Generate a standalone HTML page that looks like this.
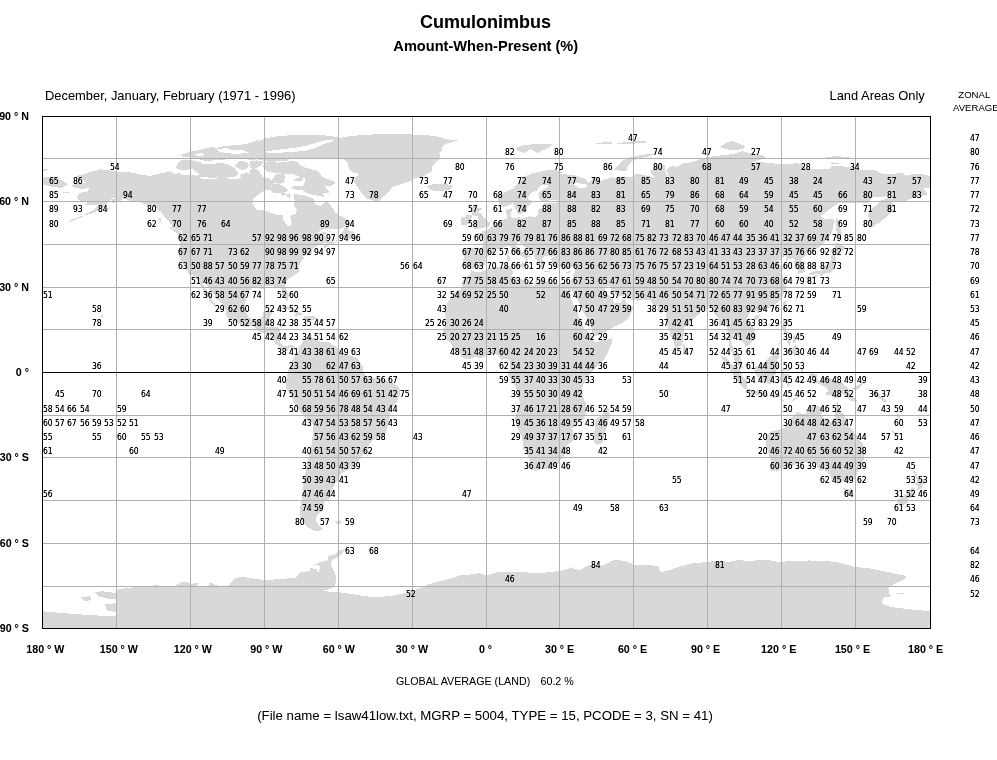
<!DOCTYPE html>
<html><head><meta charset="utf-8"><title>Cumulonimbus Amount-When-Present</title>
<style>
html,body{margin:0;padding:0;background:#fff}
body{width:997px;height:760px;overflow:hidden;position:relative;font-family:"Liberation Sans",sans-serif;color:#000}
svg{position:absolute;left:0;top:0}
text{font-family:"Liberation Sans",sans-serif;fill:#000}
.n text{font-size:8.5px;font-family:"DejaVu Sans Condensed","DejaVu Sans","Liberation Sans",sans-serif;font-stretch:condensed}
.ax text{font-size:10.7px;font-weight:bold}
</style></head><body>
<svg width="997" height="760" viewBox="0 0 997 760">
<rect width="997" height="760" fill="#fff"/>
<defs><filter id="th" x="0" y="0" width="100%" height="100%" filterUnits="userSpaceOnUse" color-interpolation-filters="sRGB"><feComponentTransfer><feFuncA type="linear" slope="1.3" intercept="0"/></feComponentTransfer></filter><filter id="tg" x="0" y="0" width="100%" height="100%" filterUnits="userSpaceOnUse" color-interpolation-filters="sRGB"><feComponentTransfer><feFuncA type="linear" slope="1.05" intercept="0"/></feComponentTransfer></filter></defs>
<g fill="#d8d8d8" stroke="none" shape-rendering="crispEdges"><polygon points="42.0,178.0 48.5,176.5 57.6,178.0 68.1,184.2 61.6,187.8 53.7,187.2 47.2,185.5 42.0,184.2"/><polygon points="42.7,168.9 47.9,168.6 48.5,170.2 43.3,170.9"/><polygon points="62.2,191.5 69.4,191.7 69.6,192.8 62.9,192.5"/><polygon points="298.3,351.2 299.5,346.0 303.1,341.6 309.2,336.8 314.4,338.0 320.8,342.0 327.2,341.6 335.6,346.4 342.9,352.6 350.3,355.6 357.1,357.9 362.7,366.3 363.3,372.1 366.3,376.1 376.8,379.1 384.4,380.1 391.0,382.5 396.4,385.1 399.6,388.7 399.6,395.0 396.4,402.2 391.0,409.0 389.8,416.2 388.4,424.3 386.4,431.3 382.4,437.3 372.6,440.3 369.3,444.3 367.3,449.3 360.3,458.0 355.3,465.4 349.3,469.4 344.8,471.8 341.5,472.9 338.1,480.7 334.7,484.1 333.1,488.6 331.4,491.9 330.3,495.3 328.6,499.7 323.6,502.0 323.6,507.6 321.9,510.9 316.8,515.4 315.7,519.9 318.0,524.4 322.4,528.8 319.1,531.5 314.6,531.0 307.9,527.7 302.3,522.1 299.5,515.4 300.1,507.6 301.7,499.7 302.9,488.6 304.5,477.4 306.8,466.2 309.0,455.0 311.8,444.3 312.8,434.3 313.4,424.7 309.2,421.2 303.1,415.2 296.1,406.2 292.1,398.2 288.1,391.2 285.5,385.3 287.1,376.1 288.1,370.1 291.1,363.1 294.1,357.1"/><polygon points="335.0,521.0 340.0,520.0 342.0,523.0 337.0,524.0"/><polygon points="339.3,143.1 342.3,137.1 360.4,135.1 380.5,134.1 400.5,134.5 420.1,134.5 436.1,136.1 446.1,139.1 457.2,140.5 448.1,143.1 441.1,146.1 442.5,149.7 438.5,153.7 440.1,158.5 434.5,164.1 430.1,169.4 425.6,171.2 418.6,176.2 410.5,181.2 400.5,184.2 392.5,187.2 388.5,192.2 382.5,197.2 378.0,203.0 376.9,201.9 370.4,199.8 366.0,197.2 362.2,193.0 358.7,187.1 356.0,182.0 355.1,177.4 359.3,176.0 358.0,173.5 352.1,172.2 349.1,168.5 347.8,163.0 345.0,158.7 339.0,158.0"/><polygon points="427.1,186.2 434.1,183.8 446.1,183.8 453.2,186.2 450.2,189.8 440.1,191.2 430.1,190.2"/><polygon points="515.3,148.1 524.4,145.1 540.4,143.7 552.5,144.1 548.4,148.1 540.4,151.1 538.4,153.1 530.4,149.1 524.4,153.1 518.4,151.1"/><polygon points="472.7,269.3 470.5,268.2 467.7,266.2 464.0,266.8 462.6,261.9 464.0,257.7 464.5,254.0 463.1,249.7 466.3,247.7 471.7,248.0 476.6,248.3 481.6,248.6 482.8,245.1 483.0,240.6 480.6,237.7 474.9,235.8 474.4,234.0 478.6,233.2 482.1,233.5 481.6,230.6 483.0,231.5 486.5,230.6 489.9,228.4 490.4,226.9 493.9,225.8 495.9,224.1 497.8,221.2 500.8,219.8 503.8,219.5 507.0,218.7 507.5,215.8 506.0,213.8 506.2,209.9 509.4,209.3 512.1,207.9 511.9,211.3 511.2,213.3 510.2,215.6 510.7,217.0 513.1,218.4 516.3,217.8 519.3,217.0 521.3,218.7 525.5,217.5 530.4,216.1 532.1,217.3 534.8,217.0 537.8,215.0 537.8,211.3 539.0,208.7 541.7,207.9 543.5,209.9 545.7,209.3 546.2,206.2 544.0,205.0 544.0,203.6 546.9,202.8 551.4,202.5 555.1,202.8 560.0,201.6 556.8,199.9 552.6,199.9 547.7,200.8 542.7,201.6 540.3,200.2 538.8,198.5 539.0,195.6 538.3,192.8 541.5,190.5 545.2,188.2 548.4,187.1 548.2,185.4 545.2,184.8 540.8,185.4 538.8,188.2 536.6,190.5 532.4,192.5 529.7,194.8 528.4,197.6 528.4,199.3 531.6,200.8 532.4,202.8 529.9,204.7 526.9,207.0 526.7,210.4 525.0,212.4 521.8,212.7 521.0,214.4 518.1,214.4 517.3,212.1 515.6,208.7 513.9,205.6 512.6,203.3 511.4,204.2 508.2,205.6 503.3,207.0 499.8,205.0 498.3,201.3 498.3,197.1 499.6,194.5 504.5,192.2 510.7,190.0 514.4,187.1 518.1,183.4 521.8,180.0 523.0,177.4 527.9,175.2 534.1,172.9 541.5,171.5 549.6,169.8 556.3,170.3 562.5,172.0 560.0,173.7 567.4,174.6 574.8,175.4 585.9,179.1 587.9,182.6 590.8,180.9 593.1,176.9 599.5,177.7 600.7,181.4 604.4,179.4 611.8,177.4 619.2,178.0 621.7,176.9 627.8,176.6 632.8,177.2 636.5,173.5 645.1,175.2 651.3,176.9 655.0,177.7 651.3,173.7 650.8,170.0 655.0,167.2 658.7,164.4 665.6,164.9 664.8,170.0 667.3,175.7 663.6,182.6 669.8,180.0 668.5,175.7 666.1,170.0 671.0,166.3 677.2,166.6 684.6,162.9 693.2,162.1 699.4,159.2 708.0,157.0 720.3,155.5 732.7,154.1 743.0,151.0 749.9,153.5 762.3,155.0 766.0,157.8 757.3,160.7 749.9,163.2 757.3,162.1 766.0,162.6 777.1,163.8 789.4,164.1 798.0,162.9 804.2,165.5 803.0,168.1 811.6,169.2 821.5,168.6 830.1,168.6 831.3,165.8 841.2,166.3 853.5,167.2 860.9,170.3 874.5,170.0 881.9,173.7 890.5,174.0 901.6,172.9 906.6,175.7 914.0,173.5 922.6,174.0 930.0,176.0 930.0,187.1 926.3,188.5 922.6,187.7 928.0,194.2 920.1,196.2 910.3,199.1 905.3,201.3 895.5,200.5 891.8,201.9 894.2,204.7 891.8,208.2 894.2,211.3 889.3,214.1 885.6,217.8 880.7,221.8 877.0,224.1 872.5,227.5 869.1,222.7 868.3,215.6 869.1,210.4 873.3,207.6 880.7,200.8 889.3,197.1 891.8,194.2 883.1,197.1 873.3,196.8 868.3,202.8 858.5,203.0 846.1,203.3 838.7,203.3 832.6,207.0 826.4,211.9 820.2,216.1 825.2,219.0 831.3,218.4 834.8,220.7 833.8,224.1 832.6,229.8 831.3,234.0 827.6,238.3 822.7,244.0 817.8,248.3 812.8,249.7 808.1,251.4 806.2,255.4 800.7,259.1 803.0,263.1 805.2,268.2 804.7,271.9 800.5,273.3 797.5,273.9 798.0,268.2 796.8,264.8 794.3,262.5 794.8,259.4 792.6,258.2 788.2,259.6 785.2,261.4 786.9,256.8 784.5,255.7 779.5,260.5 776.6,262.2 779.0,265.0 780.8,266.2 784.5,264.8 788.2,266.2 784.0,269.0 780.3,272.4 782.7,275.9 784.5,280.1 786.7,283.8 784.5,285.2 786.9,287.0 785.9,290.9 783.2,294.6 781.3,299.5 777.8,302.3 774.1,305.7 768.4,308.0 763.5,310.0 758.8,311.4 758.3,314.3 756.8,311.1 753.1,310.6 749.4,312.8 747.0,318.0 748.7,322.2 751.9,325.6 754.6,329.3 755.6,335.0 755.4,338.7 751.2,342.1 749.2,345.0 745.5,347.3 744.8,343.8 741.8,341.8 739.3,338.4 735.1,335.9 734.9,333.6 732.7,333.9 732.7,337.9 730.9,341.6 732.4,345.5 733.9,351.2 737.1,352.9 739.1,354.9 741.1,358.9 741.3,364.0 743.0,368.0 741.1,367.7 736.1,364.0 733.7,357.8 733.2,353.5 730.2,350.1 728.5,348.7 729.5,343.0 729.0,337.9 727.7,332.2 726.7,325.6 724.8,323.6 722.8,325.4 718.9,326.5 719.1,321.4 717.1,316.5 713.7,312.6 712.4,308.3 709.2,308.0 706.0,310.0 700.6,310.8 700.1,314.0 696.2,316.0 692.0,320.8 689.0,324.2 684.1,327.6 683.8,334.2 683.1,339.3 682.8,342.7 681.4,345.5 678.9,346.7 677.2,349.0 674.9,346.4 673.5,341.3 670.8,335.9 669.3,330.8 667.3,325.9 666.1,321.4 665.6,317.4 665.6,312.8 665.1,310.0 663.6,311.7 660.6,313.1 656.2,308.9 658.7,306.9 655.7,305.7 652.5,304.3 651.3,301.5 650.0,299.8 643.9,300.0 637.7,300.6 631.0,299.5 627.3,298.6 625.6,295.2 620.9,296.3 616.7,295.2 613.0,292.6 611.1,288.9 609.3,286.1 606.4,285.8 604.4,287.8 605.6,291.2 608.1,294.6 609.8,296.9 611.3,299.5 612.3,297.8 613.3,299.5 613.0,302.0 616.7,303.4 620.4,302.9 624.1,298.3 625.1,297.2 625.4,300.9 626.6,303.7 630.5,304.9 633.5,308.0 630.8,313.4 628.6,318.0 625.4,320.8 621.7,323.6 615.5,325.9 609.3,329.3 604.4,332.2 597.0,335.6 593.3,335.9 591.8,329.9 591.1,325.1 587.1,318.5 584.7,314.3 582.4,310.8 580.2,304.3 577.8,300.9 576.0,297.2 572.3,292.1 572.1,288.1 570.9,292.4 569.1,292.4 566.4,287.0 565.7,283.0 570.6,282.7 572.3,278.1 574.6,272.4 574.8,269.6 575.3,267.6 571.8,267.3 568.6,269.0 565.7,269.0 561.7,267.3 558.0,268.2 553.8,266.8 551.4,263.1 552.1,260.2 550.6,258.5 553.8,257.1 557.5,255.4 553.8,255.7 550.9,256.8 547.7,255.7 544.7,256.2 542.7,257.1 542.0,258.8 543.2,260.8 545.2,263.9 543.2,265.3 543.0,268.2 541.0,268.2 539.5,267.0 538.3,264.5 539.0,263.1 536.1,259.9 534.1,256.8 534.1,253.1 531.6,251.1 526.7,248.3 523.5,246.0 521.8,243.1 519.8,244.3 519.8,242.0 516.6,242.9 516.3,246.0 519.5,248.0 521.0,251.4 525.5,252.8 526.7,254.5 530.4,256.5 531.6,257.9 527.9,256.8 526.9,258.8 528.2,261.1 526.7,262.8 524.7,264.2 525.5,261.1 524.5,257.9 521.5,256.2 517.3,254.2 513.6,251.4 511.4,248.3 509.4,246.3 506.5,246.3 504.5,247.4 500.8,249.4 497.1,248.6 493.9,249.4 493.9,251.7 491.4,254.2 488.0,255.9 485.3,259.6 486.5,261.6 484.3,265.0 481.1,267.3 475.1,267.6"/><polygon points="471.4,270.2 474.9,271.9 481.1,272.2 483.5,270.5 486.0,269.9 489.7,268.2 493.4,267.3 498.3,267.3 503.3,267.0 510.2,265.9 513.1,266.8 512.1,270.2 513.4,273.0 510.9,275.6 513.6,277.6 518.6,278.4 523.7,280.1 525.0,283.0 529.2,284.4 533.4,285.8 535.3,283.8 535.6,280.4 539.5,278.4 543.2,279.3 547.7,282.1 553.3,283.0 557.5,284.1 560.0,283.0 562.5,282.4 565.7,283.0 566.4,287.0 567.4,290.6 569.4,293.8 570.6,297.5 573.1,303.2 574.1,306.6 577.0,309.4 577.8,312.3 578.0,316.2 581.0,320.8 582.7,325.9 584.2,328.5 587.1,330.8 590.8,335.3 592.8,337.0 592.6,339.3 594.5,342.1 597.0,342.4 601.9,340.1 606.9,339.9 612.3,338.2 612.0,342.4 610.3,346.4 608.1,352.1 605.1,357.8 601.9,362.0 598.2,365.7 594.0,369.7 590.8,373.4 587.9,377.4 585.2,380.0 583.7,383.9 582.0,388.5 583.2,391.6 583.2,396.2 584.2,400.4 585.9,402.2 586.1,408.4 586.4,413.5 584.7,418.1 579.7,421.5 576.8,423.2 572.3,428.3 573.1,433.2 573.6,439.7 569.9,443.1 566.7,445.7 567.2,450.2 565.4,453.9 562.5,457.0 560.0,461.0 556.3,465.0 552.6,467.6 549.4,468.7 544.0,469.0 540.3,469.3 535.3,471.0 531.9,469.3 530.9,465.3 530.9,461.6 528.4,457.3 526.7,453.4 523.5,448.8 522.8,443.1 521.8,437.1 519.1,431.7 516.6,425.2 515.1,420.9 515.1,417.5 516.3,414.1 517.1,409.8 519.3,407.3 520.0,403.3 518.6,397.0 516.6,389.4 515.6,386.2 513.4,383.1 509.9,378.5 507.7,374.3 509.4,370.9 509.9,366.3 510.2,362.6 509.2,360.6 507.0,358.9 503.3,359.5 500.8,359.8 498.6,355.8 496.6,354.1 493.4,353.8 489.0,354.6 485.5,356.1 481.1,358.3 478.1,357.5 474.9,357.2 471.2,358.3 467.5,359.5 463.8,357.8 459.4,354.1 457.1,352.1 453.4,347.8 452.2,345.0 449.0,341.3 444.8,337.0 444.6,333.9 442.8,330.2 445.3,326.5 446.5,320.8 445.8,316.5 444.1,312.3 446.5,304.6 450.2,297.8 453.4,293.2 457.6,290.9 461.3,288.4 462.1,285.5 461.8,282.4 465.0,277.6 467.3,276.4 469.2,275.3 471.2,271.9"/><polygon points="837.5,402.4 840.0,411.8 844.4,414.7 846.1,420.4 846.9,425.5 849.8,427.5 853.0,430.0 854.3,432.6 858.0,436.9 858.5,439.7 862.9,443.1 863.9,447.4 864.1,451.1 864.9,453.9 863.4,460.2 862.2,463.6 859.2,468.4 856.7,473.8 856.0,478.4 851.1,479.8 847.1,483.2 843.7,481.2 840.0,482.4 835.0,480.9 831.3,478.7 830.1,474.4 827.6,473.0 827.6,470.7 825.9,472.1 825.2,469.3 826.2,465.6 823.9,467.9 821.5,471.0 819.5,470.1 817.0,465.9 815.3,463.3 809.6,461.6 804.2,462.2 796.8,463.9 791.9,465.9 790.6,468.4 782.0,468.4 777.1,471.6 772.1,471.3 769.9,469.8 769.7,467.3 771.4,463.0 770.2,458.8 768.7,453.9 767.4,450.2 765.7,446.0 765.7,441.1 766.7,436.0 767.7,434.0 770.9,431.7 774.1,430.6 778.5,429.7 784.5,427.8 787.4,423.2 788.2,420.4 790.9,421.2 790.9,418.4 794.3,415.5 798.0,411.8 801.7,414.1 805.7,414.4 806.2,410.7 808.6,407.3 811.6,406.7 813.1,404.7 815.3,405.6 819.5,406.7 823.4,406.7 822.7,410.4 821.2,414.7 823.4,417.2 826.4,419.8 830.1,421.8 833.3,421.8 835.0,416.1 835.5,409.0 836.3,403.3"/><polygon points="607.6,406.1 610.3,416.1 608.3,420.4 607.9,423.8 605.6,430.3 603.7,437.4 602.2,442.8 597.5,444.8 594.5,442.5 593.1,436.0 595.3,428.9 594.5,421.8 597.0,417.8 600.2,416.7 603.4,413.5 605.9,410.1"/><polygon points="842.9,487.8 847.4,488.9 851.8,488.3 851.8,491.5 850.8,494.9 848.1,496.0 844.9,493.7 844.2,490.9"/><polygon points="912.0,469.8 915.9,472.4 917.2,476.7 919.9,479.0 926.3,479.2 924.8,483.2 922.6,484.1 922.4,487.2 918.4,490.3 917.2,489.5 917.9,485.8 914.7,483.8 916.7,481.5 916.9,478.7 915.7,475.8 912.7,472.1"/><polygon points="912.0,487.2 915.0,488.3 915.9,490.6 914.5,492.6 913.0,496.6 908.5,498.3 907.1,502.6 904.1,504.6 901.1,504.6 896.7,502.8 897.9,500.0 901.1,497.2 905.3,494.3 908.3,492.6 909.8,490.3"/><polygon points="471.9,229.5 477.4,228.9 482.8,227.8 489.2,226.6 490.2,222.1 486.7,221.2 485.8,219.3 482.3,215.6 481.1,213.0 478.1,212.7 481.6,208.4 477.4,207.9 476.1,208.2 478.4,205.3 473.7,205.3 471.7,208.4 472.2,211.3 472.2,214.4 474.2,215.6 473.7,216.4 477.4,215.8 478.4,218.4 478.6,220.1 474.9,220.4 475.6,221.8 474.4,224.1 473.2,224.7 478.6,225.8 475.6,226.4 473.7,228.6"/><polygon points="470.7,220.4 470.5,223.5 465.0,225.2 460.8,224.7 461.3,220.1 461.6,217.5 465.5,217.0 465.5,215.0 468.0,214.7 471.2,215.0 472.4,216.7 471.0,218.4"/><polygon points="613.0,170.0 618.0,165.8 621.7,161.5 629.1,157.2 641.4,155.0 655.0,153.3 648.8,156.4 634.0,160.1 627.8,165.8 626.6,170.9 619.2,170.6 614.3,169.2"/><polygon points="720.3,147.3 725.3,143.0 732.7,141.0 745.0,145.9 742.5,149.3 730.2,150.1"/><polygon points="823.9,157.8 836.3,155.8 846.1,157.2 856.0,158.1 851.1,159.2 838.7,159.0 826.4,159.5"/><polygon points="831.3,162.4 840.0,162.9 838.7,163.8 832.1,163.5"/><polygon points="836.3,217.5 839.2,221.2 839.5,226.9 841.9,232.6 838.7,238.3 840.0,240.6 836.8,241.2 836.3,236.9 836.8,232.6 835.8,226.9 835.8,219.8"/><polygon points="836.0,242.6 844.4,246.3 845.4,248.8 839.5,252.5 833.8,251.1 831.8,254.0 831.3,250.5 835.0,248.8 835.5,244.0"/><polygon points="834.5,254.5 836.3,259.6 833.8,263.9 833.8,267.3 833.3,270.5 830.8,272.4 827.6,273.3 823.9,273.6 823.4,274.4 821.0,276.7 819.0,274.4 816.5,273.9 812.8,274.7 809.1,275.3 809.1,273.6 813.1,271.3 817.8,270.7 821.5,270.5 823.2,267.3 824.7,265.3 827.6,265.6 830.1,262.5 831.3,258.8 831.3,255.9"/><polygon points="808.9,275.6 811.1,277.3 810.4,281.0 809.1,283.0 807.2,283.3 807.2,279.6 805.9,277.6"/><polygon points="812.8,275.9 817.8,274.7 817.3,276.7 814.1,278.7 812.3,277.6"/><polygon points="785.7,300.3 786.4,302.3 785.2,306.6 784.0,309.4 782.5,306.6 783.2,302.3 784.5,300.9"/><polygon points="754.1,317.4 756.1,315.1 759.8,315.1 758.6,318.5 756.1,320.2 754.1,319.1"/><polygon points="683.3,344.1 686.3,347.5 687.8,351.2 686.5,354.1 684.1,354.9 682.8,352.1 682.8,347.8"/><polygon points="783.5,319.4 787.4,319.7 787.7,323.6 785.9,327.1 786.2,330.8 789.4,332.2 791.9,335.0 790.6,335.9 788.2,333.0 784.5,333.0 783.5,330.8 782.0,327.9 782.7,325.1"/><polygon points="795.6,344.1 797.8,347.8 797.5,353.5 795.6,354.9 794.8,356.1 791.9,353.5 790.6,350.7 786.9,352.1 787.2,349.8 789.4,347.8 793.1,347.5"/><polygon points="792.6,336.4 795.1,336.4 796.1,340.7 794.8,343.0 793.6,343.0 792.9,339.9"/><polygon points="786.9,338.4 789.9,339.3 790.6,342.1 790.1,345.8 788.2,345.0 786.9,342.1"/><polygon points="775.1,348.1 777.8,345.5 780.8,339.9 780.0,343.0 777.1,346.7"/><polygon points="754.9,367.7 756.3,366.3 759.8,367.7 761.0,364.3 764.7,362.9 767.2,358.9 770.9,356.4 774.1,352.1 776.3,354.1 780.0,356.9 777.1,359.8 776.6,363.5 779.3,369.2 776.6,369.7 775.8,374.3 773.4,376.3 773.4,380.5 772.1,383.4 768.4,383.7 766.0,381.4 762.3,381.7 759.8,380.5 757.8,379.1 757.3,375.7 755.4,373.4 754.9,370.6"/><polygon points="721.1,356.1 726.5,357.2 729.5,361.5 732.7,364.9 735.1,365.7 738.8,369.2 742.0,372.0 741.3,374.8 743.8,377.1 747.5,380.5 747.2,388.5 744.0,388.5 740.1,384.8 736.4,380.0 733.4,374.8 730.2,370.6 729.0,366.9 725.3,362.9 721.6,358.6"/><polygon points="745.5,391.3 747.7,389.1 749.9,389.1 753.6,391.1 758.6,391.6 759.8,390.2 763.7,391.6 768.4,393.9 768.2,396.7 762.3,395.9 757.3,394.8 752.4,394.2 748.7,393.0"/><polygon points="769.7,395.0 773.9,395.6 779.5,395.3 779.5,397.0 774.1,397.6 769.9,397.0"/><polygon points="781.5,395.9 789.4,395.3 788.9,397.0 782.0,397.3"/><polygon points="779.5,398.7 784.0,400.2 782.5,401.3 779.5,399.9"/><polygon points="790.6,401.3 794.3,398.2 799.8,395.9 798.0,397.9 793.1,401.0"/><polygon points="780.8,387.6 783.0,387.9 783.0,380.5 784.5,379.7 786.4,383.4 788.2,387.1 789.9,384.8 787.7,381.4 785.9,377.4 790.1,374.8 790.1,373.7 785.7,374.6 782.5,372.0 783.7,370.6 789.4,370.6 794.3,367.4 793.1,369.2 789.4,369.4 784.5,368.3 782.0,369.7 781.5,372.0 780.8,374.8 779.0,380.0 780.8,382.0"/><polygon points="800.5,366.3 801.7,366.9 803.5,369.2 802.5,374.3 801.2,372.9 800.5,369.2"/><polygon points="801.7,380.5 808.6,380.5 808.1,382.2 802.2,382.0"/><polygon points="796.8,380.8 799.8,381.1 799.3,382.8 797.0,382.2"/><polygon points="808.9,374.3 812.8,373.1 816.5,374.3 817.0,379.1 819.0,381.4 822.7,378.3 826.4,376.6 833.8,379.4 838.7,381.7 842.4,382.8 845.6,386.2 848.6,389.1 850.6,391.1 848.4,391.9 851.6,396.2 854.3,397.6 857.2,401.0 854.8,401.6 849.8,400.4 847.4,397.6 843.7,394.2 841.2,393.9 840.0,396.2 838.7,398.2 833.8,397.9 830.1,395.0 826.9,395.9 825.9,392.5 828.4,391.9 826.4,387.6 821.5,385.1 816.5,383.1 814.1,383.7 813.6,381.4 811.6,380.0 815.8,378.5 812.8,377.7 809.1,376.0"/><polygon points="851.8,387.9 856.0,386.2 859.7,383.9 861.7,384.2 860.9,387.1 857.2,389.6 853.5,389.6"/><polygon points="858.0,379.4 860.9,381.1 863.4,384.8 862.7,385.4 859.7,381.7"/><polygon points="867.3,387.4 870.6,390.5 869.8,391.6 867.6,389.1"/><polygon points="890.5,429.2 895.5,432.6 897.9,435.4 896.7,435.4 891.8,431.7 890.3,429.7"/><polygon points="923.3,421.8 926.5,422.1 926.3,423.8 923.6,423.5"/><polygon points="101.2,314.5 103.7,316.2 102.2,318.0 101.2,316.5"/><polygon points="516.6,263.9 524.5,263.3 523.2,267.6 516.8,265.0"/><polygon points="506.2,255.7 508.7,254.8 510.2,256.8 509.7,260.8 506.7,261.1 506.7,256.8"/><polygon points="509.2,249.7 509.4,252.5 508.7,254.2 507.2,252.5 507.5,250.8"/><polygon points="544.0,270.7 550.9,271.6 550.6,272.4 544.2,271.9"/><polygon points="565.7,272.4 571.3,270.5 569.9,272.4 567.4,273.6"/><polygon points="42.0,611.2 72.1,613.9 104.2,615.9 116.6,615.9 116.6,612.2 106.2,610.2 105.2,604.2 116.6,603.2 116.6,599.2 110.2,599.2 98.2,596.2 95.2,592.2 102.2,591.2 116.6,593.2 116.6,589.8 122.2,588.6 134.3,587.2 150.3,585.8 158.3,585.2 162.4,586.6 174.4,586.2 180.4,582.6 186.4,581.8 190.4,583.8 200.5,582.6 196.5,585.8 208.5,586.2 208.5,582.6 212.5,582.6 214.5,585.2 226.6,586.2 230.6,584.2 238.6,583.8 234.6,579.1 242.0,576.5 242.0,628.3 42.0,628.3"/><polygon points="81.1,597.2 90.1,596.2 91.7,600.2 84.1,601.2"/><polygon points="230.0,583.8 234.0,579.1 240.0,576.5 250.1,578.1 264.1,580.2 280.2,579.1 296.2,577.7 300.2,572.1 310.2,571.1 310.2,568.1 316.3,569.1 318.3,573.1 320.3,566.1 314.3,564.5 320.3,562.1 328.3,560.1 328.3,556.1 336.3,553.7 339.3,550.1 345.3,549.1 342.3,553.1 337.3,557.1 332.3,560.1 330.3,564.1 332.3,568.1 335.3,573.1 336.3,580.2 334.3,586.2 330.3,589.2 324.3,590.2 323.3,591.2 338.3,592.2 350.4,593.8 362.4,595.8 374.4,597.2 390.5,596.2 402.5,593.8 414.6,590.2 422.6,587.2 430.0,584.2 430.0,628.3 230.0,628.3"/><polygon points="420.0,588.2 428.0,584.6 440.1,581.2 456.1,577.1 460.1,574.5 470.2,574.5 480.2,573.1 486.2,575.7 496.2,572.5 520.3,572.1 540.4,573.1 558.4,571.1 568.4,569.1 570.5,567.1 574.5,569.1 580.5,570.1 586.5,566.1 590.5,564.5 600.5,566.1 608.6,563.1 612.6,560.5 620.0,559.7 620.0,628.3 420.0,628.3"/><polygon points="610.0,561.1 618.0,560.1 626.0,561.1 634.1,564.5 650.1,565.1 658.1,566.1 660.2,572.5 670.2,570.1 678.2,567.1 690.2,563.7 706.3,562.1 714.3,561.1 730.4,561.7 738.4,560.1 750.4,561.1 758.4,560.1 766.5,559.7 778.5,562.1 790.5,561.1 802.6,561.7 810.0,560.1 810.0,628.3 610.0,628.3"/><polygon points="780.0,562.1 792.0,561.7 806.1,560.5 820.1,560.5 836.2,562.1 848.2,565.1 855.6,567.1 868.3,568.1 880.3,570.5 892.3,573.1 906.4,576.1 904.4,579.7 898.4,581.8 892.3,585.2 888.3,588.2 889.3,594.2 892.3,596.2 884.3,597.2 881.3,601.2 884.3,604.6 892.3,607.2 908.4,609.2 930.5,611.2 930.5,628.3 780.0,628.3"/><polygon points="896.3,592.6 904.4,592.6 904.4,594.2 897.4,594.2"/><polygon points="594.5,143.0 611.8,141.9 611.8,143.6 597.0,144.2"/><polygon points="616.7,143.3 629.1,141.6 646.3,141.0 646.3,142.7 629.1,143.9 619.2,144.4"/><polygon points="71.6,185.4 75.3,183.7 81.5,182.6 87.6,183.4 83.9,181.4 81.5,179.4 75.3,177.7 76.0,176.0 83.9,174.3 88.9,172.0 96.3,170.6 100.0,169.2 108.6,170.3 116.0,171.5 125.9,172.3 133.3,172.6 138.2,174.0 144.4,175.2 150.5,176.0 155.5,174.3 162.9,172.9 170.3,171.2 175.2,174.3 178.9,172.9 182.6,174.6 190.0,174.6 197.4,176.0 202.3,178.6 204.8,179.1 214.7,178.9 219.6,176.9 224.5,176.3 229.5,178.6 235.6,179.1 243.0,177.7 244.3,174.3 249.2,177.7 250.4,174.9 249.2,171.5 252.9,167.2 259.1,170.6 260.3,174.0 262.8,176.9 268.9,178.6 271.4,180.6 275.1,175.7 276.3,173.5 283.7,173.7 285.5,177.2 283.7,180.0 285.5,182.0 280.0,183.7 273.1,182.8 276.3,184.8 271.4,186.3 271.4,189.4 264.0,190.5 260.3,193.4 256.6,196.2 252.9,199.9 252.9,204.7 257.3,209.9 264.0,209.9 270.2,212.7 276.3,214.7 282.5,215.0 283.2,219.8 286.2,223.5 287.4,226.1 291.1,225.5 291.6,222.7 291.1,218.4 289.9,216.1 296.1,213.6 296.8,209.9 293.6,205.0 294.8,201.3 293.6,197.1 294.3,194.2 301.0,194.8 305.9,195.6 308.4,197.1 313.3,198.5 314.6,202.8 315.8,204.7 320.7,205.9 324.4,202.8 326.9,200.2 329.4,204.2 333.1,208.4 335.5,212.7 339.2,215.6 344.2,217.5 347.9,221.2 348.6,224.1 345.4,225.8 340.5,228.9 335.5,229.2 328.1,228.9 322.0,229.2 318.3,232.1 314.1,235.2 320.7,232.6 325.7,232.1 327.4,233.2 324.4,235.5 326.2,237.7 326.9,240.6 329.4,241.2 333.1,241.7 335.5,242.3 336.8,238.9 338.0,241.2 334.8,243.1 329.4,245.1 324.4,248.3 322.7,246.3 326.9,243.1 323.2,243.4 320.7,244.6 317.0,246.0 313.3,247.7 311.4,250.3 311.9,252.5 313.3,253.1 310.1,254.0 305.9,254.8 303.5,256.5 303.5,259.4 301.0,261.4 299.8,263.9 298.5,266.8 299.0,269.0 299.8,271.6 296.8,273.3 293.6,275.6 290.6,277.6 286.7,280.7 285.2,284.7 285.7,288.1 287.4,291.8 288.7,295.8 288.2,300.0 286.2,300.6 284.2,298.0 282.0,293.5 281.8,289.5 278.8,286.7 275.6,287.5 272.6,285.5 268.9,285.8 265.2,286.1 266.0,289.2 262.8,289.2 259.6,287.8 255.4,287.2 252.2,288.4 249.2,290.6 246.2,293.5 246.0,298.0 245.0,303.7 244.8,308.6 246.2,312.8 248.7,317.1 251.7,319.1 253.6,320.2 257.8,319.1 260.8,318.2 262.8,315.4 263.3,312.3 267.7,310.8 271.4,310.8 271.9,313.7 270.2,316.5 269.7,319.9 268.2,322.2 267.5,326.5 268.9,327.1 273.9,326.8 277.6,327.1 280.5,329.3 280.0,335.0 279.5,339.3 280.0,342.1 282.0,344.4 284.2,346.4 287.4,346.1 289.9,344.7 292.4,345.3 294.8,347.3 295.1,350.7 292.9,349.2 289.9,346.7 288.7,348.4 287.9,351.2 286.2,351.0 284.5,349.2 281.5,348.7 279.5,347.5 277.1,344.7 274.6,343.6 274.4,340.7 271.9,337.0 269.9,335.0 267.0,334.5 264.0,333.0 260.3,331.9 257.8,330.2 254.1,326.2 251.2,326.2 248.0,327.3 243.0,325.6 239.6,324.2 235.1,321.7 230.7,319.7 227.0,316.5 225.5,313.7 226.3,310.8 223.5,306.0 219.6,300.9 216.1,298.9 215.9,296.1 213.4,294.3 212.2,292.4 209.2,289.5 207.3,285.2 206.8,283.3 203.1,281.5 202.8,283.8 204.1,286.7 206.0,289.5 207.8,292.4 209.7,295.2 211.5,298.0 212.9,301.7 214.7,303.2 215.9,306.0 214.7,306.9 213.4,305.2 210.2,302.3 209.0,299.5 208.5,297.2 205.3,295.8 203.3,293.8 202.3,292.9 204.1,290.9 202.3,288.1 199.9,285.2 198.1,281.8 196.9,279.3 193.9,275.9 191.2,274.4 188.5,273.9 187.5,271.0 185.3,267.9 183.8,264.8 180.9,261.1 179.4,257.1 179.6,252.5 178.9,249.7 180.1,245.4 180.1,240.6 178.4,234.3 182.6,234.0 182.1,231.8 178.2,229.8 172.7,226.9 170.8,224.1 169.0,221.2 164.6,217.5 162.9,214.1 160.4,211.3 156.7,208.4 153.0,206.2 149.3,206.2 146.1,204.7 141.2,202.5 137.0,201.3 130.8,201.0 125.9,199.1 123.4,198.5 119.7,201.3 116.7,201.9 112.3,203.3 111.6,199.9 116.0,197.9 112.3,198.5 109.8,201.3 107.4,203.0 105.4,204.7 103.7,207.0 100.0,209.3 95.5,211.9 91.3,213.6 87.6,214.7 83.2,216.1 86.4,213.3 90.6,211.9 94.5,209.3 97.5,206.2 98.2,204.7 95.0,204.7 91.3,205.0 86.2,205.3 86.9,202.8 85.9,201.0 81.5,201.3 78.3,199.6 76.5,196.8 79.5,193.4 82.7,192.2 88.1,191.4 89.4,188.2 85.2,188.5 79.0,188.5 75.3,187.7"/><polygon points="181.9,234.3 176.4,233.2 169.5,227.8 171.5,227.2 177.2,229.8 180.6,232.1"/><polygon points="162.4,224.1 159.7,220.7 157.9,217.8 160.9,218.4 161.1,221.2"/><polygon points="110.6,207.3 109.6,209.0 104.9,210.2 105.4,207.9"/><polygon points="349.1,225.2 348.4,228.4 347.9,230.3 352.8,231.2 354.8,234.0 356.0,236.6 354.8,239.2 352.3,238.6 349.1,238.6 347.4,236.6 339.7,236.6 341.7,234.0 342.9,231.2 345.4,226.9"/><polygon points="327.1,230.1 333.8,232.3 331.8,232.3 327.4,230.9"/><polygon points="276.6,309.7 281.3,306.6 286.2,306.3 289.9,307.7 294.8,310.0 299.8,312.3 303.0,314.5 299.8,315.4 294.3,315.7 295.6,313.4 292.4,310.8 287.4,309.4 283.7,308.3 280.5,308.9 278.8,310.0"/><polygon points="302.5,319.7 304.9,315.7 309.1,315.7 313.3,316.0 315.8,317.1 317.3,319.1 314.6,319.7 310.9,320.2 309.1,321.7 305.9,320.2"/><polygon points="292.9,319.7 297.8,320.5 297.8,321.1 292.9,320.5"/><polygon points="320.2,319.4 324.2,319.7 323.9,320.8 320.2,321.1"/><polygon points="407.1,134.2 424.3,135.3 436.7,138.8 457.6,140.5 444.1,144.4 441.6,148.7 439.1,153.0 440.4,157.2 436.7,160.1 431.7,164.4 431.7,168.6 431.7,171.5 428.0,173.7 421.9,176.9 412.0,178.3 404.6,181.4 393.3,185.4 387.3,187.1 384.9,191.4 381.2,195.6 379.9,199.9 377.7,201.9 372.5,199.6 366.4,198.5 362.7,194.2 359.0,189.4 356.5,185.7 354.0,181.4 355.3,177.2 360.2,174.3 351.6,172.0 357.7,170.0 349.1,165.8 346.6,161.5 341.7,157.2 333.1,155.3 320.7,155.8 310.9,152.4 305.9,149.6 318.3,146.7 325.7,145.0 328.1,141.6 338.0,138.8 357.7,137.3 375.0,135.9 392.3,134.5"/><polygon points="255.0,141.5 264.4,139.6 274.6,137.6 287.6,135.6 300.6,135.0 313.7,135.4 328.0,136.3 338.4,137.6 348.9,138.0 359.3,136.9 369.7,135.6 385.0,134.6 385.0,158.1 255.0,158.1"/><polygon points="179.3,155.9 191.1,151.9 204.1,148.9 217.2,147.6 223.7,146.1 238.0,145.0 245.8,144.1 253.7,142.2 264.7,139.6 275.8,136.9 295.0,134.6 295.0,157.5 248.4,157.5 204.1,157.5 184.6,156.9"/><polygon points="82.7,215.6 79.0,216.7 74.1,218.7 69.1,221.0 69.1,222.1 74.1,220.4 79.0,218.1 82.7,217.0"/><polygon points="872.0,390.8 877.0,393.3 882.6,397.0 886.3,401.3 884.4,402.2 879.4,398.5 874.5,394.8 871.5,391.9"/><polygon points="896.7,413.8 898.7,414.7 901.1,418.9 899.4,419.2 897.4,416.4"/><polygon stroke="#d8d8d8" stroke-width="1.6" stroke-linejoin="round" points="176.4,167.5 178.9,162.9 182.6,160.7 190.0,160.4 197.4,162.6 201.6,163.5 194.9,167.2 190.0,168.6 182.6,169.5"/><polygon stroke="#d8d8d8" stroke-width="1.6" stroke-linejoin="round" points="197.4,175.7 201.1,174.6 197.4,171.5 193.7,169.2 196.2,165.8 202.3,164.4 214.7,164.4 222.1,163.8 227.0,164.9 234.4,168.6 236.9,172.9 235.6,175.7 227.0,176.0 219.6,176.6 209.7,176.9 202.3,176.0"/><polygon stroke="#d8d8d8" stroke-width="1.6" stroke-linejoin="round" points="241.8,169.2 235.6,165.8 239.3,162.1 245.5,162.4 248.0,164.9 246.7,168.1"/><polygon stroke="#d8d8d8" stroke-width="1.6" stroke-linejoin="round" points="250.4,167.2 250.4,162.1 256.6,161.2 262.8,162.4 260.3,164.9 255.4,167.2"/><polygon stroke="#d8d8d8" stroke-width="1.6" stroke-linejoin="round" points="240.6,175.7 246.7,173.2 250.4,175.2 248.0,177.2 243.0,176.9"/><polygon stroke="#d8d8d8" stroke-width="1.6" stroke-linejoin="round" points="265.2,162.4 273.9,162.1 277.6,163.5 283.7,162.4 287.4,165.5 293.6,162.6 298.5,164.9 303.5,167.8 310.9,170.0 317.0,171.5 319.5,174.3 322.0,177.7 331.8,181.4 334.3,182.8 330.6,185.7 325.7,184.8 319.5,182.8 325.7,188.5 328.1,191.9 323.2,192.8 317.0,190.8 323.2,195.9 313.3,193.9 308.4,193.1 302.2,188.8 297.3,189.4 292.9,188.0 294.8,186.3 302.2,187.1 304.7,185.1 305.9,181.4 305.9,177.7 301.0,176.6 296.1,174.3 291.1,172.9 287.4,173.5 283.7,172.9 276.3,172.3 268.9,170.9 265.2,169.2 264.0,165.8"/><polygon stroke="#d8d8d8" stroke-width="1.6" stroke-linejoin="round" points="272.6,186.3 277.6,184.3 283.7,187.1 287.4,190.5 281.3,192.2 275.1,192.5 271.4,190.5"/><polygon stroke="#d8d8d8" stroke-width="1.6" stroke-linejoin="round" points="259.1,155.3 251.7,154.1 264.0,153.8 276.3,154.7 286.2,155.8 289.4,157.2 287.4,159.8 276.3,160.1 264.0,159.8 259.1,159.2 257.8,157.2"/><polygon stroke="#d8d8d8" stroke-width="1.6" stroke-linejoin="round" points="288.7,155.3 293.6,154.4 298.5,150.1 301.0,147.3 310.9,145.3 318.3,142.5 328.1,140.2 333.1,137.3 323.2,135.9 312.1,135.6 293.6,135.9 276.3,137.3 264.0,139.3 261.5,141.6 271.4,143.6 273.9,145.9 268.9,148.7 266.5,151.6 270.2,154.4 278.8,154.7"/><polygon stroke="#d8d8d8" stroke-width="1.6" stroke-linejoin="round" points="249.2,144.4 256.6,141.0 264.0,143.0 268.9,145.9 270.2,149.3 261.5,149.3 255.4,147.3"/><polygon stroke="#d8d8d8" stroke-width="1.6" stroke-linejoin="round" points="196.2,156.4 204.8,154.4 217.1,153.5 225.8,156.4 224.5,159.0 214.7,159.5 206.0,160.1 199.9,158.7"/><polygon stroke="#d8d8d8" stroke-width="1.6" stroke-linejoin="round" points="182.6,155.3 190.0,152.4 199.9,151.6 196.2,155.0 188.8,156.1"/><polygon stroke="#d8d8d8" stroke-width="1.6" stroke-linejoin="round" points="229.5,157.2 234.4,154.1 243.0,154.1 245.5,157.2 239.3,158.7"/><polygon stroke="#d8d8d8" stroke-width="1.6" stroke-linejoin="round" points="225.8,149.3 236.9,146.4 241.8,148.7 233.2,150.7"/><polygon stroke="#d8d8d8" stroke-width="1.6" stroke-linejoin="round" points="244.3,148.4 249.2,148.1 250.4,150.4 245.5,150.7"/><polygon stroke="#d8d8d8" stroke-width="1.6" stroke-linejoin="round" points="203.6,152.1 209.7,150.1 214.7,150.4 213.4,152.1 208.5,152.7"/><polygon stroke="#d8d8d8" stroke-width="1.6" stroke-linejoin="round" points="204.8,149.3 212.2,147.9 215.9,149.0 209.7,149.8"/><polygon stroke="#d8d8d8" stroke-width="1.6" stroke-linejoin="round" points="224.5,152.4 228.2,151.0 229.5,152.4 225.8,153.3"/><polygon stroke="#d8d8d8" stroke-width="1.6" stroke-linejoin="round" points="248.0,158.7 251.7,157.0 255.4,158.1 252.9,159.8"/><polygon stroke="#d8d8d8" stroke-width="1.6" stroke-linejoin="round" points="286.2,162.6 293.6,161.8 298.5,163.5 293.6,165.2"/><polygon stroke="#d8d8d8" stroke-width="1.6" stroke-linejoin="round" points="294.8,179.7 299.8,178.0 302.2,179.4 298.5,180.9"/><polygon stroke="#d8d8d8" stroke-width="1.6" stroke-linejoin="round" points="281.3,192.8 283.7,193.1 285.7,194.5 282.0,194.8"/><polygon stroke="#d8d8d8" stroke-width="1.6" stroke-linejoin="round" points="287.9,194.8 290.4,195.4 289.2,196.8 287.4,195.9"/><polygon stroke="#d8d8d8" stroke-width="1.6" stroke-linejoin="round" points="191.2,156.1 194.9,156.1 196.2,157.5 192.5,157.5"/><polygon fill="#fff" points="573.1,183.1 579.7,183.4 586.6,184.6 587.4,186.5 583.4,188.0 578.5,187.7 575.5,185.7"/><polygon fill="#fff" points="266.1,151.3 281.1,149.3 294.1,148.0 304.5,146.1 313.7,143.5 322.8,140.9 333.2,139.3 334.5,140.6 325.4,143.5 316.3,147.4 307.2,150.6 294.1,151.9 281.1,152.6 268.0,153.2"/><polygon fill="#fff" points="217.2,149.3 226.3,148.0 232.8,150.6 243.2,150.0 248.4,152.6 238.0,154.2 227.6,153.2 219.8,151.9"/><polygon fill="#fff" points="195.0,154.2 202.8,152.6 204.1,155.2 197.6,156.5"/></g>
<g stroke="#b0b0b0" stroke-width="1" shape-rendering="crispEdges"><line x1="116.5" y1="116" x2="116.5" y2="628"/><line x1="190.5" y1="116" x2="190.5" y2="628"/><line x1="264.5" y1="116" x2="264.5" y2="628"/><line x1="338.5" y1="116" x2="338.5" y2="628"/><line x1="412.5" y1="116" x2="412.5" y2="628"/><line x1="486.5" y1="116" x2="486.5" y2="628"/><line x1="559.5" y1="116" x2="559.5" y2="628"/><line x1="633.5" y1="116" x2="633.5" y2="628"/><line x1="707.5" y1="116" x2="707.5" y2="628"/><line x1="781.5" y1="116" x2="781.5" y2="628"/><line x1="855.5" y1="116" x2="855.5" y2="628"/><line x1="42" y1="158.5" x2="930" y2="158.5"/><line x1="42" y1="201.5" x2="930" y2="201.5"/><line x1="42" y1="244.5" x2="930" y2="244.5"/><line x1="42" y1="287.5" x2="930" y2="287.5"/><line x1="42" y1="329.5" x2="930" y2="329.5"/><line x1="42" y1="415.5" x2="930" y2="415.5"/><line x1="42" y1="457.5" x2="930" y2="457.5"/><line x1="42" y1="500.5" x2="930" y2="500.5"/><line x1="42" y1="543.5" x2="930" y2="543.5"/><line x1="42" y1="586.5" x2="930" y2="586.5"/></g>
<line x1="42" y1="372.5" x2="930" y2="372.5" stroke="#000" stroke-width="1" shape-rendering="crispEdges"/>
<rect x="42.5" y="116.5" width="888" height="512" fill="none" stroke="#000" stroke-width="1.4" shape-rendering="crispEdges"/>
<g filter="url(#th)"><g class="n" transform="scale(1 1)"><text x="178" y="241">62</text><text x="191" y="241">65</text><text x="203" y="241">71</text><text x="252" y="241">57</text><text x="265" y="241">92</text><text x="277" y="241">98</text><text x="289" y="241">96</text><text x="302" y="241">98</text><text x="314" y="241">90</text><text x="326" y="241">97</text><text x="339" y="241">94</text><text x="351" y="241">96</text><text x="462" y="241">59</text><text x="474" y="241">60</text><text x="487" y="241">63</text><text x="499" y="241">79</text><text x="511" y="241">76</text><text x="524" y="241">79</text><text x="536" y="241">81</text><text x="548" y="241">76</text><text x="561" y="241">86</text><text x="573" y="241">88</text><text x="585" y="241">81</text><text x="598" y="241">69</text><text x="610" y="241">72</text><text x="622" y="241">68</text><text x="635" y="241">75</text><text x="647" y="241">82</text><text x="659" y="241">73</text><text x="672" y="241">72</text><text x="684" y="241">83</text><text x="696" y="241">70</text><text x="709" y="241">46</text><text x="721" y="241">47</text><text x="733" y="241">44</text><text x="746" y="241">35</text><text x="758" y="241">36</text><text x="770" y="241">41</text><text x="783" y="241">32</text><text x="795" y="241">37</text><text x="807" y="241">69</text><text x="820" y="241">74</text><text x="832" y="241">79</text><text x="844" y="241">85</text><text x="857" y="241">80</text><text x="178" y="255">67</text><text x="191" y="255">67</text><text x="203" y="255">71</text><text x="228" y="255">73</text><text x="240" y="255">62</text><text x="265" y="255">90</text><text x="277" y="255">98</text><text x="289" y="255">99</text><text x="302" y="255">92</text><text x="314" y="255">94</text><text x="326" y="255">97</text><text x="462" y="255">67</text><text x="474" y="255">70</text><text x="487" y="255">62</text><text x="499" y="255">57</text><text x="511" y="255">66</text><text x="524" y="255">65</text><text x="536" y="255">77</text><text x="548" y="255">66</text><text x="561" y="255">83</text><text x="573" y="255">86</text><text x="585" y="255">86</text><text x="598" y="255">77</text><text x="610" y="255">80</text><text x="622" y="255">85</text><text x="635" y="255">61</text><text x="647" y="255">76</text><text x="659" y="255">72</text><text x="672" y="255">68</text><text x="684" y="255">53</text><text x="696" y="255">43</text><text x="709" y="255">41</text><text x="721" y="255">33</text><text x="733" y="255">43</text><text x="746" y="255">23</text><text x="758" y="255">37</text><text x="770" y="255">37</text><text x="783" y="255">35</text><text x="795" y="255">76</text><text x="807" y="255">66</text><text x="820" y="255">92</text><text x="832" y="255">82</text><text x="844" y="255">72</text><text x="178" y="269">63</text><text x="191" y="269">50</text><text x="203" y="269">88</text><text x="215" y="269">57</text><text x="228" y="269">50</text><text x="240" y="269">59</text><text x="252" y="269">77</text><text x="265" y="269">78</text><text x="277" y="269">75</text><text x="289" y="269">71</text><text x="400" y="269">56</text><text x="413" y="269">64</text><text x="462" y="269">68</text><text x="474" y="269">63</text><text x="487" y="269">70</text><text x="499" y="269">78</text><text x="511" y="269">66</text><text x="524" y="269">61</text><text x="536" y="269">57</text><text x="548" y="269">59</text><text x="561" y="269">60</text><text x="573" y="269">63</text><text x="585" y="269">56</text><text x="598" y="269">62</text><text x="610" y="269">56</text><text x="622" y="269">73</text><text x="635" y="269">75</text><text x="647" y="269">76</text><text x="659" y="269">75</text><text x="672" y="269">57</text><text x="684" y="269">23</text><text x="696" y="269">19</text><text x="709" y="269">64</text><text x="721" y="269">51</text><text x="733" y="269">53</text><text x="746" y="269">28</text><text x="758" y="269">63</text><text x="770" y="269">46</text><text x="783" y="269">60</text><text x="795" y="269">68</text><text x="807" y="269">88</text><text x="820" y="269">87</text><text x="832" y="269">73</text><text x="191" y="284">51</text><text x="203" y="284">46</text><text x="215" y="284">43</text><text x="228" y="284">40</text><text x="240" y="284">56</text><text x="252" y="284">82</text><text x="265" y="284">83</text><text x="277" y="284">74</text><text x="326" y="284">65</text><text x="437" y="284">67</text><text x="462" y="284">77</text><text x="474" y="284">75</text><text x="487" y="284">58</text><text x="499" y="284">45</text><text x="511" y="284">63</text><text x="524" y="284">62</text><text x="536" y="284">59</text><text x="548" y="284">66</text><text x="561" y="284">56</text><text x="573" y="284">67</text><text x="585" y="284">53</text><text x="598" y="284">65</text><text x="610" y="284">47</text><text x="622" y="284">61</text><text x="635" y="284">59</text><text x="647" y="284">48</text><text x="659" y="284">50</text><text x="672" y="284">54</text><text x="684" y="284">70</text><text x="696" y="284">80</text><text x="709" y="284">80</text><text x="721" y="284">74</text><text x="733" y="284">74</text><text x="746" y="284">70</text><text x="758" y="284">73</text><text x="770" y="284">68</text><text x="783" y="284">64</text><text x="795" y="284">79</text><text x="807" y="284">81</text><text x="820" y="284">73</text><text x="43" y="298">51</text><text x="191" y="298">62</text><text x="203" y="298">36</text><text x="215" y="298">58</text><text x="228" y="298">54</text><text x="240" y="298">67</text><text x="252" y="298">74</text><text x="277" y="298">52</text><text x="289" y="298">60</text><text x="437" y="298">32</text><text x="450" y="298">54</text><text x="462" y="298">69</text><text x="474" y="298">52</text><text x="487" y="298">25</text><text x="499" y="298">50</text><text x="536" y="298">52</text><text x="561" y="298">46</text><text x="573" y="298">47</text><text x="585" y="298">60</text><text x="598" y="298">49</text><text x="610" y="298">57</text><text x="622" y="298">52</text><text x="635" y="298">56</text><text x="647" y="298">41</text><text x="659" y="298">46</text><text x="672" y="298">50</text><text x="684" y="298">54</text><text x="696" y="298">71</text><text x="709" y="298">72</text><text x="721" y="298">65</text><text x="733" y="298">77</text><text x="746" y="298">91</text><text x="758" y="298">95</text><text x="770" y="298">85</text><text x="783" y="298">78</text><text x="795" y="298">72</text><text x="807" y="298">59</text><text x="832" y="298">71</text><text x="92" y="312">58</text><text x="215" y="312">29</text><text x="228" y="312">62</text><text x="240" y="312">60</text><text x="265" y="312">52</text><text x="277" y="312">43</text><text x="289" y="312">52</text><text x="302" y="312">55</text><text x="437" y="312">43</text><text x="499" y="312">40</text><text x="573" y="312">47</text><text x="585" y="312">50</text><text x="598" y="312">47</text><text x="610" y="312">29</text><text x="622" y="312">59</text><text x="647" y="312">38</text><text x="659" y="312">29</text><text x="672" y="312">51</text><text x="684" y="312">51</text><text x="696" y="312">50</text><text x="709" y="312">52</text><text x="721" y="312">60</text><text x="733" y="312">83</text><text x="746" y="312">92</text><text x="758" y="312">94</text><text x="770" y="312">76</text><text x="783" y="312">62</text><text x="795" y="312">71</text><text x="857" y="312">59</text><text x="92" y="326">78</text><text x="203" y="326">39</text><text x="228" y="326">50</text><text x="240" y="326">52</text><text x="252" y="326">58</text><text x="265" y="326">48</text><text x="277" y="326">42</text><text x="289" y="326">38</text><text x="302" y="326">35</text><text x="314" y="326">44</text><text x="326" y="326">57</text><text x="425" y="326">25</text><text x="437" y="326">26</text><text x="450" y="326">30</text><text x="462" y="326">26</text><text x="474" y="326">24</text><text x="573" y="326">46</text><text x="585" y="326">49</text><text x="659" y="326">37</text><text x="672" y="326">42</text><text x="684" y="326">41</text><text x="709" y="326">36</text><text x="721" y="326">41</text><text x="733" y="326">45</text><text x="746" y="326">63</text><text x="758" y="326">83</text><text x="770" y="326">29</text><text x="783" y="326">35</text><text x="252" y="340">45</text><text x="265" y="340">42</text><text x="277" y="340">44</text><text x="289" y="340">23</text><text x="302" y="340">34</text><text x="314" y="340">51</text><text x="326" y="340">54</text><text x="339" y="340">62</text><text x="437" y="340">25</text><text x="450" y="340">20</text><text x="462" y="340">27</text><text x="474" y="340">23</text><text x="487" y="340">21</text><text x="499" y="340">15</text><text x="511" y="340">25</text><text x="536" y="340">16</text><text x="573" y="340">60</text><text x="585" y="340">42</text><text x="598" y="340">29</text><text x="659" y="340">35</text><text x="672" y="340">42</text><text x="684" y="340">51</text><text x="709" y="340">54</text><text x="721" y="340">32</text><text x="733" y="340">41</text><text x="746" y="340">49</text><text x="783" y="340">39</text><text x="795" y="340">45</text><text x="832" y="340">49</text><text x="277" y="355">38</text><text x="289" y="355">41</text><text x="302" y="355">43</text><text x="314" y="355">38</text><text x="326" y="355">61</text><text x="339" y="355">49</text><text x="351" y="355">63</text><text x="450" y="355">48</text><text x="462" y="355">51</text><text x="474" y="355">48</text><text x="487" y="355">37</text><text x="499" y="355">60</text><text x="511" y="355">42</text><text x="524" y="355">24</text><text x="536" y="355">20</text><text x="548" y="355">23</text><text x="573" y="355">54</text><text x="585" y="355">52</text><text x="659" y="355">45</text><text x="672" y="355">45</text><text x="684" y="355">47</text><text x="709" y="355">52</text><text x="721" y="355">44</text><text x="733" y="355">35</text><text x="746" y="355">61</text><text x="770" y="355">44</text><text x="783" y="355">36</text><text x="795" y="355">30</text><text x="807" y="355">46</text><text x="820" y="355">44</text><text x="857" y="355">47</text><text x="869" y="355">69</text><text x="894" y="355">44</text><text x="906" y="355">52</text><text x="92" y="369">36</text><text x="289" y="369">23</text><text x="302" y="369">30</text><text x="326" y="369">62</text><text x="339" y="369">47</text><text x="351" y="369">63</text><text x="462" y="369">45</text><text x="474" y="369">39</text><text x="499" y="369">62</text><text x="511" y="369">54</text><text x="524" y="369">23</text><text x="536" y="369">30</text><text x="548" y="369">39</text><text x="561" y="369">31</text><text x="573" y="369">44</text><text x="585" y="369">44</text><text x="598" y="369">36</text><text x="659" y="369">44</text><text x="721" y="369">45</text><text x="733" y="369">37</text><text x="746" y="369">61</text><text x="758" y="369">44</text><text x="770" y="369">50</text><text x="783" y="369">50</text><text x="795" y="369">53</text><text x="906" y="369">42</text><text x="277" y="383">40</text><text x="302" y="383">55</text><text x="314" y="383">78</text><text x="326" y="383">61</text><text x="339" y="383">50</text><text x="351" y="383">57</text><text x="363" y="383">63</text><text x="376" y="383">56</text><text x="388" y="383">67</text><text x="499" y="383">59</text><text x="511" y="383">55</text><text x="524" y="383">37</text><text x="536" y="383">40</text><text x="548" y="383">33</text><text x="561" y="383">30</text><text x="573" y="383">45</text><text x="585" y="383">33</text><text x="622" y="383">53</text><text x="733" y="383">51</text><text x="746" y="383">54</text><text x="758" y="383">47</text><text x="770" y="383">43</text><text x="783" y="383">45</text><text x="795" y="383">42</text><text x="807" y="383">49</text><text x="820" y="383">46</text><text x="832" y="383">48</text><text x="844" y="383">49</text><text x="857" y="383">49</text><text x="918" y="383">39</text><text x="55" y="397">45</text><text x="92" y="397">70</text><text x="141" y="397">64</text><text x="277" y="397">47</text><text x="289" y="397">51</text><text x="302" y="397">50</text><text x="314" y="397">51</text><text x="326" y="397">54</text><text x="339" y="397">46</text><text x="351" y="397">69</text><text x="363" y="397">61</text><text x="376" y="397">51</text><text x="388" y="397">42</text><text x="400" y="397">75</text><text x="511" y="397">39</text><text x="524" y="397">55</text><text x="536" y="397">50</text><text x="548" y="397">30</text><text x="561" y="397">49</text><text x="573" y="397">42</text><text x="659" y="397">50</text><text x="746" y="397">52</text><text x="758" y="397">50</text><text x="770" y="397">49</text><text x="783" y="397">45</text><text x="795" y="397">46</text><text x="807" y="397">52</text><text x="832" y="397">48</text><text x="844" y="397">52</text><text x="869" y="397">36</text><text x="881" y="397">37</text><text x="918" y="397">38</text><text x="43" y="412">58</text><text x="55" y="412">54</text><text x="67" y="412">66</text><text x="80" y="412">54</text><text x="117" y="412">59</text><text x="289" y="412">50</text><text x="302" y="412">68</text><text x="314" y="412">59</text><text x="326" y="412">56</text><text x="339" y="412">78</text><text x="351" y="412">48</text><text x="363" y="412">54</text><text x="376" y="412">43</text><text x="388" y="412">44</text><text x="511" y="412">37</text><text x="524" y="412">46</text><text x="536" y="412">17</text><text x="548" y="412">21</text><text x="561" y="412">28</text><text x="573" y="412">67</text><text x="585" y="412">46</text><text x="598" y="412">52</text><text x="610" y="412">54</text><text x="622" y="412">59</text><text x="721" y="412">47</text><text x="783" y="412">50</text><text x="807" y="412">47</text><text x="820" y="412">46</text><text x="832" y="412">52</text><text x="857" y="412">47</text><text x="881" y="412">43</text><text x="894" y="412">59</text><text x="918" y="412">44</text><text x="43" y="426">60</text><text x="55" y="426">57</text><text x="67" y="426">67</text><text x="80" y="426">56</text><text x="92" y="426">59</text><text x="104" y="426">53</text><text x="117" y="426">52</text><text x="129" y="426">51</text><text x="302" y="426">43</text><text x="314" y="426">47</text><text x="326" y="426">54</text><text x="339" y="426">53</text><text x="351" y="426">58</text><text x="363" y="426">57</text><text x="376" y="426">56</text><text x="388" y="426">43</text><text x="511" y="426">19</text><text x="524" y="426">45</text><text x="536" y="426">36</text><text x="548" y="426">18</text><text x="561" y="426">49</text><text x="573" y="426">55</text><text x="585" y="426">43</text><text x="598" y="426">46</text><text x="610" y="426">49</text><text x="622" y="426">57</text><text x="635" y="426">58</text><text x="783" y="426">30</text><text x="795" y="426">64</text><text x="807" y="426">48</text><text x="820" y="426">42</text><text x="832" y="426">63</text><text x="844" y="426">47</text><text x="894" y="426">60</text><text x="918" y="426">53</text><text x="43" y="440">55</text><text x="92" y="440">55</text><text x="117" y="440">60</text><text x="141" y="440">55</text><text x="154" y="440">53</text><text x="314" y="440">57</text><text x="326" y="440">56</text><text x="339" y="440">43</text><text x="351" y="440">62</text><text x="363" y="440">59</text><text x="376" y="440">58</text><text x="413" y="440">43</text><text x="511" y="440">29</text><text x="524" y="440">49</text><text x="536" y="440">37</text><text x="548" y="440">37</text><text x="561" y="440">17</text><text x="573" y="440">67</text><text x="585" y="440">35</text><text x="598" y="440">51</text><text x="622" y="440">61</text><text x="758" y="440">20</text><text x="770" y="440">25</text><text x="807" y="440">47</text><text x="820" y="440">63</text><text x="832" y="440">62</text><text x="844" y="440">54</text><text x="857" y="440">44</text><text x="881" y="440">57</text><text x="894" y="440">51</text><text x="43" y="454">61</text><text x="129" y="454">60</text><text x="215" y="454">49</text><text x="302" y="454">40</text><text x="314" y="454">61</text><text x="326" y="454">54</text><text x="339" y="454">50</text><text x="351" y="454">57</text><text x="363" y="454">62</text><text x="524" y="454">35</text><text x="536" y="454">41</text><text x="548" y="454">34</text><text x="561" y="454">48</text><text x="598" y="454">42</text><text x="758" y="454">20</text><text x="770" y="454">46</text><text x="783" y="454">72</text><text x="795" y="454">40</text><text x="807" y="454">65</text><text x="820" y="454">56</text><text x="832" y="454">60</text><text x="844" y="454">52</text><text x="857" y="454">38</text><text x="894" y="454">42</text><text x="302" y="469">33</text><text x="314" y="469">48</text><text x="326" y="469">50</text><text x="339" y="469">43</text><text x="351" y="469">39</text><text x="524" y="469">36</text><text x="536" y="469">47</text><text x="548" y="469">49</text><text x="561" y="469">46</text><text x="770" y="469">60</text><text x="783" y="469">36</text><text x="795" y="469">36</text><text x="807" y="469">39</text><text x="820" y="469">43</text><text x="832" y="469">44</text><text x="844" y="469">49</text><text x="857" y="469">39</text><text x="906" y="469">45</text><text x="302" y="483">50</text><text x="314" y="483">39</text><text x="326" y="483">43</text><text x="339" y="483">41</text><text x="672" y="483">55</text><text x="820" y="483">62</text><text x="832" y="483">45</text><text x="844" y="483">49</text><text x="857" y="483">62</text><text x="906" y="483">53</text><text x="918" y="483">53</text><text x="43" y="497">56</text><text x="302" y="497">47</text><text x="314" y="497">46</text><text x="326" y="497">44</text><text x="462" y="497">47</text><text x="844" y="497">64</text><text x="894" y="497">31</text><text x="906" y="497">52</text><text x="918" y="497">46</text><text x="302" y="511">74</text><text x="314" y="511">59</text><text x="573" y="511">49</text><text x="610" y="511">58</text><text x="659" y="511">63</text><text x="894" y="511">61</text><text x="906" y="511">53</text><text x="49" y="184">65</text><text x="73" y="184">86</text><text x="345" y="184">47</text><text x="419" y="184">73</text><text x="443" y="184">77</text><text x="517" y="184">72</text><text x="542" y="184">74</text><text x="567" y="184">77</text><text x="591" y="184">79</text><text x="616" y="184">85</text><text x="641" y="184">85</text><text x="665" y="184">83</text><text x="690" y="184">80</text><text x="715" y="184">81</text><text x="739" y="184">49</text><text x="764" y="184">45</text><text x="789" y="184">38</text><text x="813" y="184">24</text><text x="863" y="184">43</text><text x="887" y="184">57</text><text x="912" y="184">57</text><text x="49" y="198">85</text><text x="123" y="198">94</text><text x="345" y="198">73</text><text x="369" y="198">78</text><text x="419" y="198">65</text><text x="443" y="198">47</text><text x="468" y="198">70</text><text x="493" y="198">68</text><text x="517" y="198">74</text><text x="542" y="198">65</text><text x="567" y="198">84</text><text x="591" y="198">83</text><text x="616" y="198">81</text><text x="641" y="198">65</text><text x="665" y="198">79</text><text x="690" y="198">86</text><text x="715" y="198">68</text><text x="739" y="198">64</text><text x="764" y="198">59</text><text x="789" y="198">45</text><text x="813" y="198">45</text><text x="838" y="198">66</text><text x="863" y="198">80</text><text x="887" y="198">81</text><text x="912" y="198">83</text><text x="49" y="212">89</text><text x="73" y="212">93</text><text x="98" y="212">84</text><text x="147" y="212">80</text><text x="172" y="212">77</text><text x="197" y="212">77</text><text x="468" y="212">57</text><text x="493" y="212">61</text><text x="517" y="212">74</text><text x="542" y="212">88</text><text x="567" y="212">88</text><text x="591" y="212">82</text><text x="616" y="212">83</text><text x="641" y="212">69</text><text x="665" y="212">75</text><text x="690" y="212">70</text><text x="715" y="212">68</text><text x="739" y="212">59</text><text x="764" y="212">54</text><text x="789" y="212">55</text><text x="813" y="212">60</text><text x="838" y="212">69</text><text x="863" y="212">71</text><text x="887" y="212">81</text><text x="49" y="227">80</text><text x="147" y="227">62</text><text x="172" y="227">70</text><text x="197" y="227">76</text><text x="221" y="227">64</text><text x="320" y="227">89</text><text x="345" y="227">94</text><text x="443" y="227">69</text><text x="468" y="227">58</text><text x="493" y="227">66</text><text x="517" y="227">82</text><text x="542" y="227">87</text><text x="567" y="227">85</text><text x="591" y="227">88</text><text x="616" y="227">85</text><text x="641" y="227">71</text><text x="665" y="227">81</text><text x="690" y="227">77</text><text x="715" y="227">60</text><text x="739" y="227">60</text><text x="764" y="227">40</text><text x="789" y="227">52</text><text x="813" y="227">58</text><text x="838" y="227">69</text><text x="863" y="227">80</text><text x="295" y="525">80</text><text x="320" y="525">57</text><text x="345" y="525">59</text><text x="863" y="525">59</text><text x="887" y="525">70</text><text x="345" y="554">63</text><text x="369" y="554">68</text><text x="591" y="568">84</text><text x="715" y="568">81</text><text x="505" y="155">82</text><text x="554" y="155">80</text><text x="653" y="155">74</text><text x="702" y="155">47</text><text x="751" y="155">27</text><text x="110" y="170">54</text><text x="455" y="170">80</text><text x="505" y="170">76</text><text x="554" y="170">75</text><text x="603" y="170">86</text><text x="653" y="170">80</text><text x="702" y="170">68</text><text x="751" y="170">57</text><text x="801" y="170">28</text><text x="850" y="170">34</text><text x="505" y="582">46</text><text x="406" y="597">52</text><text x="628" y="141">47</text><text x="970" y="141">47</text><text x="970" y="155">80</text><text x="970" y="170">76</text><text x="970" y="184">77</text><text x="970" y="198">77</text><text x="970" y="212">72</text><text x="970" y="227">73</text><text x="970" y="241">77</text><text x="970" y="255">78</text><text x="970" y="269">70</text><text x="970" y="284">69</text><text x="970" y="298">61</text><text x="970" y="312">53</text><text x="970" y="326">45</text><text x="970" y="340">46</text><text x="970" y="355">47</text><text x="970" y="369">42</text><text x="970" y="383">43</text><text x="970" y="397">48</text><text x="970" y="412">50</text><text x="970" y="426">47</text><text x="970" y="440">46</text><text x="970" y="454">47</text><text x="970" y="469">47</text><text x="970" y="483">42</text><text x="970" y="497">49</text><text x="970" y="511">64</text><text x="970" y="525">73</text><text x="970" y="554">64</text><text x="970" y="568">82</text><text x="970" y="582">46</text><text x="970" y="597">52</text></g></g><g filter="url(#tg)">
<g class="ax"><text x="26.3" y="653">180 ° W</text><text x="99.8" y="653">150 ° W</text><text x="173.8" y="653">120 ° W</text><text x="250.2" y="653">90 ° W</text><text x="322.7" y="653">60 ° W</text><text x="395.8" y="653">30 ° W</text><text x="478.9" y="653">0 °</text><text x="545.0" y="653">30 ° E</text><text x="617.9" y="653">60 ° E</text><text x="691.0" y="653">90 ° E</text><text x="761.1" y="653">120 ° E</text><text x="834.9" y="653">150 ° E</text><text x="908.0" y="653">180 ° E</text><text x="29" y="119.9" text-anchor="end">90 ° N</text><text x="29" y="205.2" text-anchor="end">60 ° N</text><text x="29" y="290.6" text-anchor="end">30 ° N</text><text x="29" y="375.9" text-anchor="end">0 °</text><text x="29" y="461.2" text-anchor="end">30 ° S</text><text x="29" y="546.6" text-anchor="end">60 ° S</text><text x="29" y="631.9" text-anchor="end">90 ° S</text></g>
<text x="485.5" y="28" text-anchor="middle" font-size="18" font-weight="bold">Cumulonimbus</text>
<text x="485.8" y="50.5" text-anchor="middle" font-size="14.6" font-weight="bold">Amount-When-Present (%)</text>
<text x="45" y="99.5" font-size="12.9">December, January, February (1971 - 1996)</text>
<text x="829.5" y="99.5" font-size="12.9">Land Areas Only</text>
<text x="958.3" y="98" font-size="9.6">ZONAL</text>
<text x="953" y="111" font-size="9.6">AVERAGE</text>
<text x="396" y="685" font-size="10.7">GLOBAL AVERAGE (LAND)</text>
<text x="540.5" y="685" font-size="10.7">60.2 %</text>
<text x="485" y="720" text-anchor="middle" font-size="13.25">(File name = lsaw41low.txt, MGRP = 5004, TYPE = 15, PCODE = 3, SN = 41)</text>
</g></svg></body></html>
